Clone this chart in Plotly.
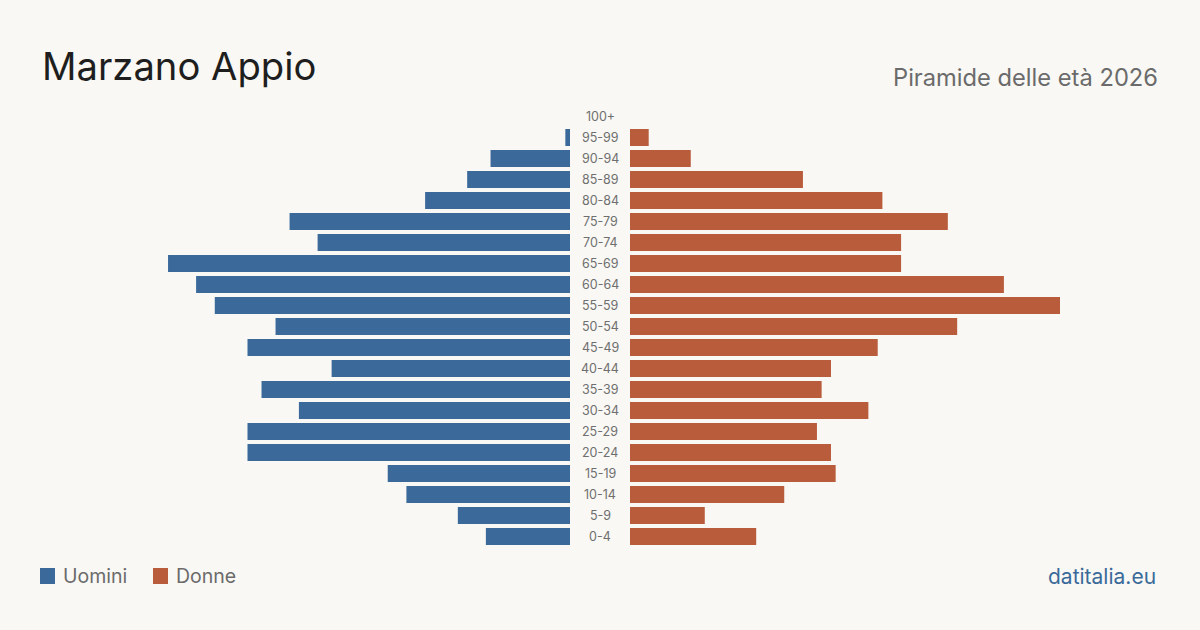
import plotly.graph_objects as go

W, H = 1200, 630
age_groups = ["0-4", "5-9", "10-14", "15-19", "20-24", "25-29", "30-34", "35-39", "40-44", "45-49",
              "50-54", "55-59", "60-64", "65-69", "70-74", "75-79", "80-84", "85-89", "90-94", "95-99", "100+"]
men = [18, 24, 35, 39, 69, 69, 58, 66, 51, 69, 63, 76, 80, 86, 54, 60, 31, 22, 17, 1, 0]
women = [27, 16, 33, 44, 43, 40, 51, 41, 43, 53, 70, 92, 80, 58, 58, 68, 54, 37, 13, 4, 0]

BLUE = "#3b6a9a"
ORANGE = "#b95c3c"
BG = "#f9f8f4"
FONT = "Inter, Liberation Sans, sans-serif"

# layout geometry (pixels)
M_T, M_B = 106, 83
center_l, center_r = 570, 630
px_per_unit = 430 / max(max(men), max(women))
span = center_l / px_per_unit

ypos = list(range(len(age_groups)))

fig = go.Figure()
fig.add_trace(go.Bar(x=men, y=ypos, orientation="h", marker_color=BLUE, marker_line_width=0,
                     name="Uomini", xaxis="x", yaxis="y", showlegend=False,
                     hovertemplate="%{customdata}: %{x}<extra>Uomini</extra>", customdata=age_groups))
fig.add_trace(go.Bar(x=women, y=ypos, orientation="h", marker_color=ORANGE, marker_line_width=0,
                     name="Donne", xaxis="x2", yaxis="y", showlegend=False,
                     hovertemplate="%{customdata}: %{x}<extra>Donne</extra>", customdata=age_groups))

ph = H - M_T - M_B
def py(pix):
    return (H - M_B - pix) / ph

annotations = []
for i, g in enumerate(age_groups):
    annotations.append(dict(x=0.5, xref="paper", y=i, yref="y", text=g, showarrow=False,
                            font=dict(family=FONT, size=12.5, color="#6f6f6f"), xanchor="center", yanchor="middle"))

annotations += [
    dict(x=40 / W, y=py(66), xref="paper", yref="paper", text="Marzano Appio", showarrow=False,
         xanchor="left", yanchor="middle", font=dict(family=FONT, size=38.2, color="#1e1e1e")),
    dict(x=1160 / W, y=py(77), xref="paper", yref="paper", text="Piramide delle età 2026", showarrow=False,
         xanchor="right", yanchor="middle", font=dict(family=FONT, size=23.7, color="#6b6b6b")),
    dict(x=61 / W, y=py(576), xref="paper", yref="paper", text="Uomini", showarrow=False,
         xanchor="left", yanchor="middle", font=dict(family=FONT, size=19.5, color="#6b6b6b")),
    dict(x=174 / W, y=py(576), xref="paper", yref="paper", text="Donne", showarrow=False,
         xanchor="left", yanchor="middle", font=dict(family=FONT, size=19.5, color="#6b6b6b")),
    dict(x=1158 / W, y=py(576), xref="paper", yref="paper", text="datitalia.eu", showarrow=False,
         xanchor="right", yanchor="middle", font=dict(family=FONT, size=21, color="#3b6a9a")),
]

shapes = [
    dict(type="rect", xref="paper", yref="paper", x0=40 / W, x1=55 / W, y0=py(584), y1=py(568),
         fillcolor=BLUE, line_width=0),
    dict(type="rect", xref="paper", yref="paper", x0=153 / W, x1=168 / W, y0=py(584), y1=py(568),
         fillcolor=ORANGE, line_width=0),
]

fig.update_layout(
    width=W, height=H,
    margin=dict(l=0, r=0, t=M_T, b=M_B),
    paper_bgcolor=BG, plot_bgcolor=BG,
    bargap=0.19,
    xaxis=dict(domain=[0, center_l / W], range=[span, 0], visible=False, fixedrange=True),
    xaxis2=dict(domain=[center_r / W, 1], range=[0, span], visible=False, fixedrange=True),
    yaxis=dict(range=[-0.5, len(age_groups) - 0.5], visible=False, fixedrange=True),
    annotations=annotations,
    shapes=shapes,
    font=dict(family=FONT),
)

fig.write_html("out.html")
